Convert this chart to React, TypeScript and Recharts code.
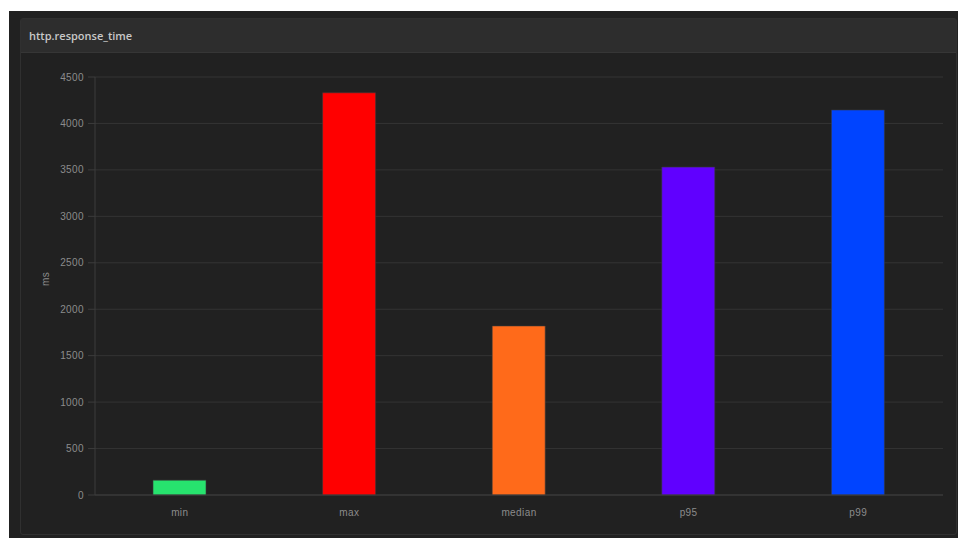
import { Bar, BarChart, CartesianGrid, Cell, XAxis, YAxis } from "recharts";

const categories = ["min", "max", "median", "p95", "p99"];
const values = [160, 4330, 1820, 3530, 4145];
const barColors = ["#27e36e", "#ff0000", "#ff6a1a", "#6000ff", "#0044ff"];
const yTicks = [0, 500, 1000, 1500, 2000, 2500, 3000, 3500, 4000, 4500];

const data = categories.map((name, i) => ({ name, value: values[i] }));

const tickStyle = {
  fill: "#8c8c8c",
  fontSize: 10,
  letterSpacing: 0.4,
  fontFamily: "'Liberation Sans', Arial, sans-serif",
};

export default function App() {
  return (
    <div style={{ position: "fixed", left: 0, top: 0, width: 958, height: 538, background: "#fff", overflow: "hidden" }}>
      <div style={{ position: "absolute", left: 9, top: 11, width: 949, height: 527, background: "#212121" }} />
      <div
        style={{
          position: "absolute",
          left: 20,
          top: 18,
          width: 937,
          height: 517,
          border: "1px solid #303030",
          borderRadius: 3,
          background: "#212121",
          boxSizing: "border-box",
        }}
      >
        <div
          style={{
            height: 34,
            background: "#2d2d2d",
            borderBottom: "1px solid #363636",
            color: "#c8c8c8",
            fontFamily: "'Open Sans', Arial, sans-serif",
            fontSize: 11,
            fontWeight: 600,
            lineHeight: "34px",
            paddingLeft: 8,
            boxSizing: "border-box",
          }}
        >
          http.response_time
        </div>
      </div>
      <div style={{ position: "absolute", left: 0, top: 0 }}>
        <BarChart width={958} height={538} data={data} margin={{ top: 77, right: 15, bottom: 13, left: 35 }}>
          <CartesianGrid vertical={false} stroke="#343434" />
          <XAxis
            dataKey="name"
            axisLine={{ stroke: "#3c3c3c" }}
            tickLine={false}
            tick={tickStyle}
            tickMargin={8}
            height={30}
          />
          <YAxis
            width={60}
            domain={[0, 4500]}
            ticks={yTicks}
            interval={0}
            axisLine={{ stroke: "#3c3c3c" }}
            tickLine={{ stroke: "#3c3c3c" }}
            tickSize={7}
            tickMargin={4}
            tick={tickStyle}
            label={{ value: "ms", angle: -90, position: "insideLeft", offset: 10, style: tickStyle }}
          />
          <Bar dataKey="value" barSize={53} isAnimationActive={false}>
            {data.map((d, i) => (
              <Cell key={d.name} fill={barColors[i]} stroke="#3a3a3a" strokeOpacity={0.6} />
            ))}
          </Bar>
        </BarChart>
      </div>
    </div>
  );
}
